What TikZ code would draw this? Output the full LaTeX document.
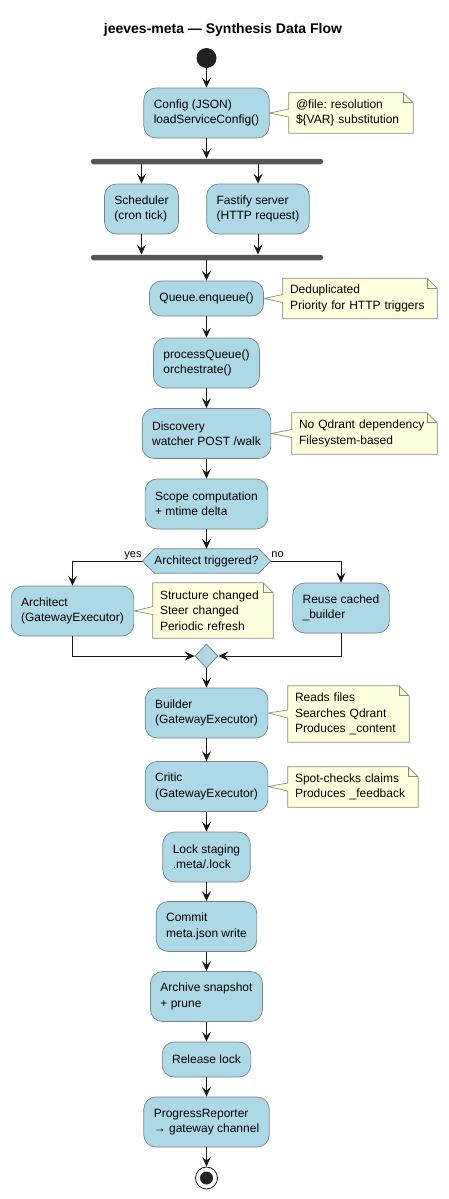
\documentclass[tikz,border=0pt]{standalone}
\usepackage{fontspec}
\setmainfont{Liberation Sans}
\usetikzlibrary{arrows.meta,shapes.geometric,backgrounds,calc}
\pgfdeclarelayer{notes}
\pgfsetlayers{background,notes,main}
\frenchspacing
\definecolor{boxfill}{HTML}{ADD8E6}
\definecolor{boxline}{HTML}{72838B}
\definecolor{notefill}{HTML}{FEFFDD}
\definecolor{noteline}{HTML}{8A8A80}
\definecolor{arrcol}{HTML}{181818}
\definecolor{barcol}{HTML}{555555}
\definecolor{dotcol}{HTML}{222222}
\tikzset{
  every node/.style={font=\fontsize{12}{15.3}\selectfont},
  act/.style={draw=boxline, line width=0.7pt, fill=boxfill, rounded corners=12pt,
    inner xsep=10pt, inner ysep=0pt, align=left, minimum height=50pt},
  act1/.style={act, minimum height=35pt},
  notetext/.style={inner xsep=7pt, inner ysep=0pt, align=left},
  notepath/.style={draw=noteline, line width=0.7pt, fill=notefill},
  arr/.style={draw=arrcol, line width=0.9pt, -{Stealth[length=10pt,width=9pt,inset=4pt]}},
  bar/.style={fill=barcol, rounded corners=2.5pt, minimum width=232pt, minimum height=5.5pt, inner sep=0pt},
  lbl/.style={font=\fontsize{11}{13}\selectfont, inner sep=0.5pt},
}
\newcommand\noteshape[2]{%
  \begin{pgfonlayer}{notes}
  \path[notepath] (#1.north west) -- ([xshift=-10pt]#1.north east) -- ([yshift=-10pt]#1.north east)
    -- (#1.south east) -- (#1.south west) -- ([yshift=-4pt]#1.west) -- (#2.east)
    -- ([yshift=4pt]#1.west) -- cycle;
  \draw[draw=noteline, line width=0.7pt] ([xshift=-10pt]#1.north east) -- ([xshift=-10pt,yshift=-10pt]#1.north east) -- ([yshift=-10pt]#1.north east);
  \end{pgfonlayer}}
\begin{document}
\begin{tikzpicture}[x=1pt,y=-1pt]
\begin{pgfonlayer}{background}
\fill[white] (0,0) rectangle (448,1199);
\end{pgfonlayer}
\useasboundingbox (0,0) rectangle (448,1199);

\node[font=\bfseries\fontsize{14}{17}\selectfont] (title) at (223,30) {jeeves-meta — Synthesis Data Flow};

\node[circle, fill=dotcol, minimum size=20pt, inner sep=0pt] (start) at (206.5,58) {};
\node[act] (cfg) at (206.5,113) {Config (JSON)\\loadServiceConfig()};
\node[notetext, text width=110pt, minimum height=40pt] (n1) at (351,113) {@file: resolution\\\$\{VAR\} substitution};
\noteshape{n1}{cfg}

\node[bar] (fk1) at (207,161.5) {};
\node[act] (sch) at (141.5,209) {Scheduler\\(cron tick)};
\node[act] (fst) at (258,209) {Fastify server\\(HTTP request)};
\node[bar] (fk2) at (207,257.5) {};

\node[act1] (que) at (206.5,298.5) {Queue.enqueue()};
\node[notetext, text width=140pt, minimum height=40pt] (n2) at (360,298.5) {Deduplicated\\Priority for HTTP triggers};
\noteshape{n2}{que}

\node[act] (proc) at (206.5,363) {processQueue()\\orchestrate()};
\node[act] (disc) at (206.5,433.5) {Discovery\\watcher POST /walk};
\node[notetext, text width=131pt, minimum height=41pt] (n3) at (364.5,433.5) {No Qdrant dependency\\Filesystem-based};
\noteshape{n3}{disc}

\node[act] (scope) at (206.5,504) {Scope computation\\+ mtime delta};

\node[minimum width=128pt, minimum height=24pt, inner sep=0pt] (dec) at (206.5,561) {Architect triggered?};
\begin{pgfonlayer}{notes}
\path[draw=boxline, line width=0.7pt, fill=boxfill] (dec.west) -- ([xshift=12pt]dec.north west) -- ([xshift=-12pt]dec.north east) -- (dec.east) -- ([xshift=-12pt]dec.south east) -- ([xshift=12pt]dec.south west) -- cycle;
\end{pgfonlayer}
\node[lbl, anchor=east] (yes) at ([yshift=5.5pt]dec.west) {yes};
\node[lbl, anchor=west] (no) at ([yshift=6pt]dec.east) {no};

\node[act] (arch) at (72.5,611) {Architect\\(GatewayExecutor)};
\node[notetext, text width=106pt, minimum height=55pt] (n4) at (213,610.5) {Structure changed\\Steer changed\\Periodic refresh};
\noteshape{n4}{arch}
\node[act] (reuse) at (341,608) {Reuse cached\\\_builder};

\node[diamond, draw=boxline, line width=0.7pt, fill=boxfill, minimum width=23pt, minimum height=24pt, inner sep=0pt] (mrg) at (206.5,656) {};

\node[act] (bld) at (206.5,713) {Builder\\(GatewayExecutor)};
\node[notetext, text width=107pt, minimum height=56pt] (n5) at (348.5,714) {Reads files\\Searches Qdrant\\Produces \_content};
\noteshape{n5}{bld}

\node[act] (crit) at (206.5,786.5) {Critic\\(GatewayExecutor)};
\node[notetext, text width=116pt, minimum height=40pt] (n6) at (353,787) {Spot-checks claims\\Produces \_feedback};
\noteshape{n6}{crit}

\node[act] (lock) at (206.5,857) {Lock staging\\.meta/.lock};
\node[act] (cmt) at (206.5,926.5) {Commit\\meta.json write};
\node[act] (arc) at (206.5,996.5) {Archive snapshot\\+ prune};
\node[act1] (rel) at (206.5,1059.5) {Release lock};
\node[act] (prog) at (206.5,1122) {ProgressReporter\\→ gateway channel};

\node[circle, draw=arrcol, fill=white, line width=0.8pt, minimum size=22pt, inner sep=0pt] (end) at (206.5,1178) {};
\node[circle, fill=dotcol, minimum size=13pt, inner sep=0pt] (endin) at (end.center) {};

% connectors
\draw[arr] (start.south) -- (cfg.north);
\draw[arr] (cfg.south) -- (cfg.south |- fk1.north);
\draw[arr] (sch.north |- fk1.south) -- (sch.north);
\draw[arr] (fst.north |- fk1.south) -- (fst.north);
\draw[arr] (sch.south) -- (sch.south |- fk2.north);
\draw[arr] (fst.south) -- (fst.south |- fk2.north);
\draw[arr] (que.north |- fk2.south) -- (que.north);
\draw[arr] (que.south) -- (proc.north);
\draw[arr] (proc.south) -- (disc.north);
\draw[arr] (disc.south) -- (scope.north);
\draw[arr] (scope.south) -- (dec.north);
\draw[arr] (dec.west) -| (arch.north);
\draw[arr] (dec.east) -| (reuse.north);
\draw[arr] (arch.south) |- (mrg.west);
\draw[arr] (reuse.south) |- (mrg.east);
\draw[arr] (mrg.south) -- (bld.north);
\draw[arr] (bld.south) -- (crit.north);
\draw[arr] (crit.south) -- (lock.north);
\draw[arr] (lock.south) -- (cmt.north);
\draw[arr] (cmt.south) -- (arc.north);
\draw[arr] (arc.south) -- (rel.north);
\draw[arr] (rel.south) -- (prog.north);
\draw[arr] (prog.south) -- (end.north);
\end{tikzpicture}
\end{document}
